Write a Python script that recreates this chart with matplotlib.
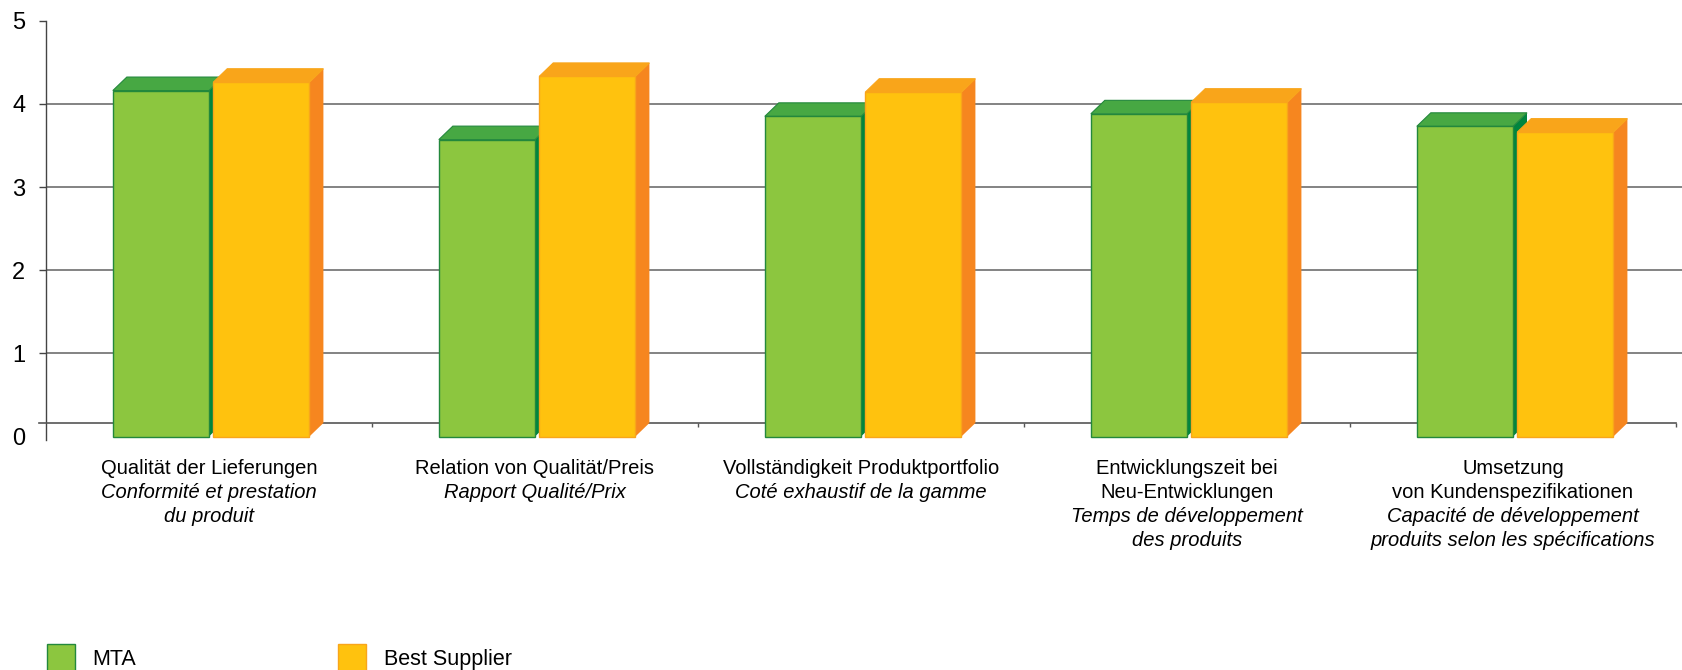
import matplotlib
matplotlib.use("Agg")
import numpy as np
import matplotlib.pyplot as plt
from matplotlib.patches import Polygon, Patch

# data
labels_de = [["Qualität der Lieferungen"],
             ["Relation von Qualität/Preis"],
             ["Vollständigkeit Produktportfolio"],
             ["Entwicklungszeit bei", "Neu-Entwicklungen"],
             ["Umsetzung", "von Kundenspezifikationen"]]
labels_fr = [["Conformité et prestation", "du produit"],
             ["Rapport Qualité/Prix"],
             ["Coté exhaustif de la gamme"],
             ["Temps de développement", "des produits"],
             ["Capacité de développement", "produits selon les spécifications"]]
mta = [4.16, 3.57, 3.85, 3.88, 3.73]
best = [4.26, 4.33, 4.14, 4.02, 3.66]
series = ["MTA", "Best Supplier"]
yticks = [0, 1, 2, 3, 4, 5]

plt.rcParams['font.family'] = ['Liberation Sans', 'DejaVu Sans']

W, H = 1682, 670
fig = plt.figure(figsize=(W / 100, H / 100), dpi=100)
ax = fig.add_axes([46 / W, 230 / H, (W - 46) / W, (440 - 20.7) / H])
ax.set_xlim(-0.5, -0.5 + (W - 46) / 326)
ax.set_ylim(-0.042, 5)

# depth of the fake 3d boxes
dx = 14 / 326
dy = 13.5 / 83.16
bw = 0.295
gap = 0.013

green = dict(front='#8cc63f', top='#47a843', side='#00853e', edge='#23883c')
yellow = dict(front='#ffc20e', top='#f9a51a', side='#f6861f', edge='#f9a51a')


def box(x0, h, c):
    x1 = x0 + bw
    side = [(x1, 0), (x1 + dx, dy), (x1 + dx, h + dy), (x1, h)]
    top = [(x0, h), (x1, h), (x1 + dx, h + dy), (x0 + dx, h + dy)]
    front = [(x0, 0), (x1, 0), (x1, h), (x0, h)]
    ax.add_patch(Polygon(side, closed=True, fc=c['side'], ec='none', zorder=3))
    ax.add_patch(Polygon(top, closed=True, fc=c['top'], ec=c['edge'], lw=0.8, zorder=3))
    ax.add_patch(Polygon(front, closed=True, fc=c['front'], ec=c['edge'], lw=1.0, zorder=3))


for i in range(len(mta)):
    box(i - bw, mta[i], green)
    box(i + gap, best[i], yellow)

# axes styling
for s in ['top', 'right']:
    ax.spines[s].set_visible(False)
ax.spines['left'].set_color('#444444')
ax.spines['left'].set_linewidth(1.0)
ax.spines['bottom'].set_position(('data', dy))
ax.spines['bottom'].set_bounds(-0.5 - 7 / 326, 4.5)
ax.spines['bottom'].set_color('#555555')
ax.spines['bottom'].set_linewidth(1.2)
ax.spines['bottom'].set_clip_on(False)

ax.set_yticks(yticks)
ax.set_yticklabels([str(v) for v in yticks], fontsize=17)
ax.tick_params(axis='y', direction='out', length=5, width=1, color='#444444', pad=10)
ax.yaxis.get_major_ticks()[0].tick1line.set_visible(False)
ax.grid(axis='y', color='#6e6e6e', lw=1.2)
ax.set_axisbelow(True)
gl = ax.get_ygridlines()
gl[0].set_visible(False)
gl[-1].set_visible(False)

ax.set_xticks(np.arange(0.5, 5, 1))
ax.set_xticklabels([])
ax.tick_params(axis='x', direction='out', length=3, width=1, color='#555555')

# category labels
for i in range(len(mta)):
    lines = [(t, 'normal') for t in labels_de[i]] + [(t, 'italic') for t in labels_fr[i]]
    for k, (t, st) in enumerate(lines):
        ax.annotate(t, xy=(i, 0), xycoords=('data', 'axes fraction'),
                    xytext=(0, -28 - 24 * k), textcoords='offset pixels',
                    ha='center', va='center', fontsize=14.5, style=st)

handles = [Patch(fc=green['front'], ec=green['edge']), Patch(fc=yellow['front'], ec=yellow['edge'])]
fig.legend(handles, series, loc='lower left', bbox_to_anchor=(47 / W, -2 / H), ncol=2,
           frameon=False, fontsize=15.5, handlelength=1.3, handleheight=1.6,
           handletextpad=0.8, columnspacing=9.4, borderpad=0, borderaxespad=0)

fig.savefig('out.png', dpi=100)
